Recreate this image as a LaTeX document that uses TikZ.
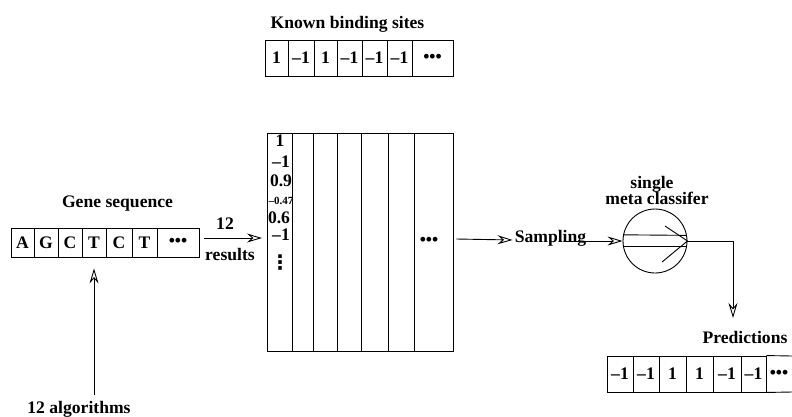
\documentclass[tikz,border=0pt]{standalone}
\usepackage{fontspec}
\setmainfont{Liberation Serif}
\newfontfamily\djv{DejaVu Sans}
\usetikzlibrary{arrows.meta,calc}
\begin{document}
\begin{tikzpicture}[x=1pt,y=-1pt,
  every node/.style={font=\fontsize{17.6}{20}\selectfont\bfseries, inner sep=0pt},
  lbl/.style={anchor=base},
  cell/.style={draw, line width=0.9pt, minimum height=36, inner sep=0pt},
  gcell/.style={draw, line width=0.9pt, minimum height=29, inner sep=0pt},
  mcol/.style={draw, line width=0.9pt, minimum height=218, inner sep=0pt},
  val/.style={inner sep=0pt},
  tiny/.style={font=\fontsize{11}{12}\selectfont\bfseries, inner sep=0pt},
  arr/.style={-{Stealth[open,length=15pt,width=9pt,inset=5pt]}, line width=0.9pt},
  ln/.style={line width=0.9pt},
]
\useasboundingbox (0,0) rectangle (792,416);

% Known binding sites
\node[lbl] (ktitle) at (347.5,28) {Known binding sites};
\node[cell, minimum width=23] (k1) at (276.5,58) {1};
\node[cell, minimum width=26] (k2) at (301,58) {–1};
\node[cell, minimum width=23] (k3) at (325.5,58) {1};
\node[cell, minimum width=25] (k4) at (349.5,58) {–1};
\node[cell, minimum width=25] (k5) at (374.5,58) {–1};
\node[cell, minimum width=25] (k6) at (399.5,58) {–1};
\node[cell, minimum width=41] (k7) at (432.5,58) {•••};

% Gene sequence
\node[lbl] (gtitle) at (117.5,207) {Gene sequence};
\node[gcell, minimum width=23] (g1) at (22.5,242.5) {A};
\node[gcell, minimum width=24] (g2) at (46,242.5) {G};
\node[gcell, minimum width=24] (g3) at (70,242.5) {C};
\node[gcell, minimum width=24] (g4) at (94,242.5) {T};
\node[gcell, minimum width=26] (g5) at (119,242.5) {C};
\node[gcell, minimum width=25] (g6) at (144.5,242.5) {T};
\node[gcell, minimum width=42] (g7) at (178,242.5) {•••};

% 12 algorithms
\node[lbl] (alg) at (79,413) {12 algorithms};
\coordinate (a0) at (94,395);
\draw[arr] (a0) -- ([shift={(0,11)}]g4.south);

% 12 results arrow
\draw[arr] ([shift={(5,-4.5)}]g7.east) -- (262,238) coordinate (r1);
\node[lbl] (n12) at (225,229) {12};
\node[lbl] (nres) at (230,260) {results};

% Matrix
\node[mcol, minimum width=25] (m1) at (279.5,242) {};
\node[mcol, minimum width=21] (m2) at (302.5,242) {};
\node[mcol, minimum width=24] (m3) at (325,242) {};
\node[mcol, minimum width=24] (m4) at (349,242) {};
\node[mcol, minimum width=27] (m5) at (374.5,242) {};
\node[mcol, minimum width=26] (m6) at (401,242) {};
\node[mcol, minimum width=39] (m7) at (433.5,242) {};
\node[val] (v1) at (280,141) {1};
\node[val] (v2) at (281,162) {–1};
\node[val] (v3) at (281,181) {0.9};
\node[tiny] (v4) at (281,201) {–0.47};
\node[val] (v5) at (279,218) {0.6};
\node[val] (v6) at (281,235) {–1};
\node[val, font=\fontsize{20}{20}\djv\bfseries] (v7) at (280,263) {⋮};
\node[val] (mdots) at (429,241) {•••};

% Sampling
\node[lbl] (samp) at (550.5,242) {Sampling};
\draw[arr] ([shift={(3,-3)}]m7.east) -- ([shift={(-2,1)}]samp.west |- 0,239);

% Classifier
\node[draw, circle, line width=0.9pt, minimum size=64, inner sep=0pt] (circ) at (655,241) {};
\node[lbl] (ctitle1) at (652,188) {single};
\node[lbl] (ctitle2) at (657,204) {meta classifer};
\coordinate (s1) at (565,241);
\draw[arr] (s1) -- (circ.west);
\draw[ln] (circ.169.2) -- (circ.10.8);
\draw[ln] (circ.190.8) -- (circ.-10.8);
\draw[ln] ($(circ.center)+(10,-15)$) -- (circ.east) -- ($(circ.center)+(7,21)$);

% Predictions
\node[lbl] (ptitle) at (745,343) {Predictions};
\coordinate (pd) at (733,318);
\draw[arr] (circ.east) -| (pd);
\node[cell, minimum width=26] (p1) at (620,374) {–1};
\node[cell, minimum width=26] (p2) at (646,374) {–1};
\node[cell, minimum width=27] (p3) at (672.5,374) {1};
\node[cell, minimum width=27] (p4) at (699.5,374) {\raisebox{-3pt}{1}};
\node[cell, minimum width=28] (p5) at (727,374) {–1};
\node[cell, minimum width=25] (p6) at (753.5,374) {–1};
\node[val] (p7) at (779,374) {•••};
\draw[ln] (p6.north east) -- (792,356);
\draw[ln] (p6.south east) -- (792,392);
\end{tikzpicture}
\end{document}
